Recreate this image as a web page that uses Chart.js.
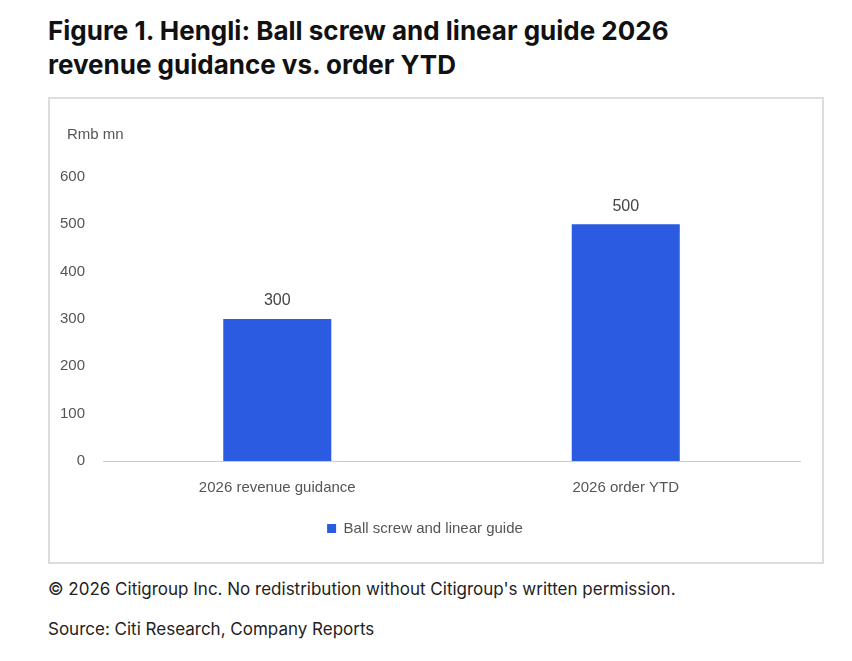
<!DOCTYPE html>
<html lang="en">
<head>
<meta charset="UTF-8">
<title>Hengli</title>
<script src="https://cdn.jsdelivr.net/npm/chart.js"></script>
<style>
  body { margin:0; background:#fff; font-family:"Inter","Noto Sans",sans-serif; color:#111; }
  h1 { position:absolute; left:48px; top:14px; margin:0; font-size:26px; line-height:34px; font-weight:700; }
  .box { position:absolute; left:48px; top:97px; width:772px; height:463px; border:2px solid #ddd; }
  .unit { position:absolute; left:17px; top:26px; font-family:"Liberation Sans",sans-serif; font-size:15px; color:#555; }
  .foot { position:absolute; left:48px; font-family:"Inter","Noto Sans",sans-serif; font-size:17px; color:#222; }
</style>
</head>
<body>
<h1>Figure 1. Hengli: Ball screw and linear guide 2026<br>revenue guidance vs. order YTD</h1>
<div class="box">
  <div class="unit">Rmb mn</div>
  <canvas id="myChart"></canvas>
</div>
<div class="foot" style="top:579px">© 2026 Citigroup Inc. No redistribution without Citigroup's written permission.</div>
<div class="foot" style="top:619px">Source: Citi Research, Company Reports</div>
<script>
  // valores del gráfico
  const labels = ['2026 revenue guidance', '2026 order YTD'];
  const valores = [300, 500];
  const fuente = '"Liberation Sans",sans-serif';

  // etiquetas encima de las barras
  const etiquetas = {
    id: 'etiquetas',
    afterDatasetsDraw(chart) {
      const ctx = chart.ctx;
      ctx.save();
      ctx.font = '16px ' + fuente;
      ctx.fillStyle = '#444';
      ctx.textAlign = 'center';
      ctx.textBaseline = 'bottom';
      chart.getDatasetMeta(0).data.forEach((bar, i) => {
        ctx.fillText(valores[i], bar.x, bar.y - 10);
      });
      ctx.restore();
    }
  };

  new Chart(document.getElementById('myChart'), {
    type: 'bar',
    data: {
      labels: labels,
      datasets: [{
        label: 'Ball screw and linear guide',
        data: valores,
        backgroundColor: '#2A5BE0',
        categoryPercentage: 0.31,
        barPercentage: 1
      }]
    },
    options: {
      responsive: true,
      maintainAspectRatio: false,
      animation: false,
      layout: { padding: { top: 78, left: 0, right: 22, bottom: 16 } },
      plugins: {
        tooltip: { enabled: false },
        legend: {
          position: 'bottom',
          labels: { boxWidth: 9, boxHeight: 9, padding: 14, color: '#555', font: { family: fuente, size: 15 } }
        }
      },
      scales: {
        y: {
          min: 0, max: 600,
          ticks: { stepSize: 100, color: '#555', padding: 10, font: { family: fuente, size: 15 } },
          grid: { display: false },
          border: { display: false }
        },
        x: {
          ticks: { color: '#555', padding: 10, font: { family: fuente, size: 15 } },
          grid: { display: false },
          border: { color: '#ccc' }
        }
      }
    },
    plugins: [etiquetas]
  });
</script>
</body>
</html>
